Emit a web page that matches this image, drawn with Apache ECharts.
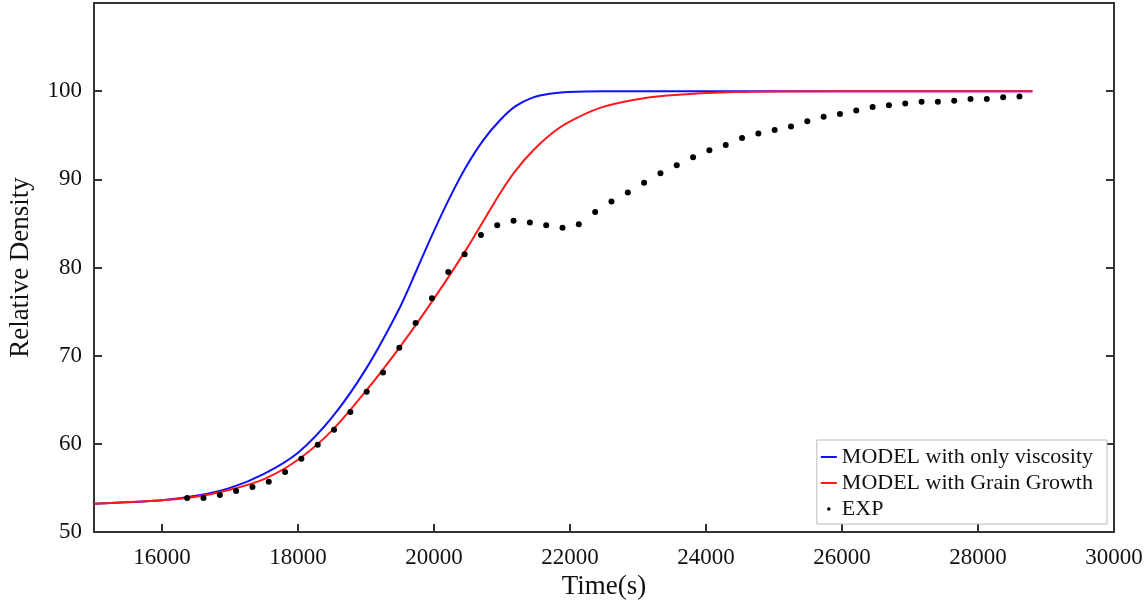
<!DOCTYPE html>
<html>
<head>
<meta charset="utf-8">
<script src="https://cdn.jsdelivr.net/npm/echarts@6/dist/echarts.min.js"></script>
<style>html,body{margin:0;padding:0;background:#fff}#chart{width:1148px;height:603px}</style>
</head>
<body>
<div id="chart"></div>
<script>
const viscT = [15000, 16000, 16500, 17000, 17500, 18000, 18500, 19000, 19500, 19750, 19985, 20230, 20470, 20720, 20970, 21200, 21460, 21700, 21960, 22500, 24000, 26000, 28800]
const viscV = [53.2, 53.6, 54.1, 55.0, 56.6, 59.0, 63.0, 68.5, 75.5, 79.8, 83.9, 87.9, 91.4, 94.4, 96.7, 98.3, 99.3, 99.7, 99.9, 100, 100, 100, 100]
const grainT = [15000, 16000, 16500, 17000, 17500, 18000, 18500, 19000, 19500, 19985, 20470, 20970, 21200, 21460, 21700, 21960, 22440, 22930, 23430, 24410, 26000, 28800]
const grainV = [53.2, 53.6, 54.0, 54.8, 56.0, 58.2, 61.5, 66.0, 71.0, 76.3, 82.0, 88.4, 91.0, 93.3, 95.0, 96.4, 98.1, 99.0, 99.5, 99.9, 100, 100]
const expT = [16370, 16610, 16850, 17090, 17330, 17570, 17810, 18050, 18290, 18530, 18770, 19010, 19250, 19490, 19730, 19970, 20210, 20450, 20690, 20930, 21170, 21410, 21650, 21890, 22130, 22370, 22610, 22850, 23090, 23330, 23570, 23810, 24050, 24290, 24530, 24770, 25010, 25250, 25490, 25730, 25970, 26210, 26450, 26690, 26930, 27170, 27410, 27650, 27890, 28130, 28370, 28610]
const expV = [53.85, 53.85, 54.2, 54.65, 55.1, 55.7, 56.8, 58.3, 59.9, 61.6, 63.6, 65.9, 68.1, 70.9, 73.7, 76.5, 79.5, 81.5, 83.7, 84.8, 85.3, 85.1, 84.8, 84.5, 84.9, 86.3, 87.5, 88.5, 89.6, 90.7, 91.6, 92.5, 93.3, 93.9, 94.7, 95.2, 95.6, 96.0, 96.6, 97.1, 97.4, 97.8, 98.2, 98.4, 98.6, 98.8, 98.8, 98.9, 99.1, 99.1, 99.3, 99.4]
const xTicks = [16000, 18000, 20000, 22000, 24000, 26000, 28000, 30000]

const zip = (a, b) => a.map((v, i) => [v, b[i]])
const font = 'Liberation Serif'
const axisLine = { show: true, lineStyle: { color: '#333', width: 2 } }
const tick = { inside: true, length: 8, lineStyle: { color: '#333', width: 2 } }

const option = {
  animation: false,
  backgroundColor: '#fff',
  textStyle: { fontFamily: font },
  grid: { left: 94, right: 34, top: 3, bottom: 71, containLabel: false, outerBoundsMode: 'none' },
  legend: {
    orient: 'vertical', right: 41, bottom: 79,
    backgroundColor: '#fff', borderColor: '#bbb', borderWidth: 1,
    padding: [6, 14, 4, 4], itemGap: 4, itemWidth: 16, itemHeight: 14,
    textStyle: { fontFamily: font, fontSize: 22, color: '#111' },
    data: [
      { name: 'MODEL with only viscosity', icon: 'path://M0,6h16v2h-16z' },
      { name: 'MODEL with Grain Growth', icon: 'path://M0,6h16v2h-16z' },
      { name: 'EXP', icon: 'path://M0,0M16,16M6,8a2,2 0 1,0 4,0a2,2 0 1,0 -4,0z' }
    ]
  },
  xAxis: [{
    type: 'value', min: 15000, max: 30000, interval: 1000,
    name: 'Time(s)', nameLocation: 'middle', nameGap: 40,
    nameTextStyle: { fontFamily: font, fontSize: 27, color: '#111' },
    axisLine, splitLine: { show: false },
    axisTick: { ...tick, customValues: xTicks },
    axisLabel: { fontSize: 23, color: '#111', margin: 14, customValues: xTicks, formatter: v => String(v) }
  }, {
    type: 'value', position: 'top', min: 15000, max: 30000,
    axisLine, axisTick: { show: false }, axisLabel: { show: false }, splitLine: { show: false }
  }],
  yAxis: [{
    type: 'value', min: 50, max: 110, interval: 10,
    name: 'Relative Density', nameLocation: 'middle', nameGap: 60,
    nameTextStyle: { fontFamily: font, fontSize: 27, color: '#111' },
    axisLine, splitLine: { show: false }, axisTick: tick,
    axisLabel: { fontSize: 23, color: '#111', margin: 12,
      formatter: v => (v >= 110 ? '' : String(v)) }
  }, {
    type: 'value', position: 'right', min: 50, max: 110, interval: 10,
    axisLine, splitLine: { show: false }, axisLabel: { show: false }, axisTick: tick
  }],
  series: [
    { name: 'MODEL with only viscosity', type: 'line', smooth: 0.3, showSymbol: false,
      color: '#1010ff', lineStyle: { width: 2 }, data: zip(viscT, viscV) },
    { name: 'MODEL with Grain Growth', type: 'line', smooth: 0.3, showSymbol: false,
      color: '#ff1a1a', lineStyle: { width: 2 }, data: zip(grainT, grainV) },
    { name: 'EXP', type: 'scatter', symbolSize: 6, color: '#000', itemStyle: { opacity: 1 },
      data: zip(expT, expV), z: 5 }
  ]
}

echarts.init(document.getElementById('chart')).setOption(option)
</script>
</body>
</html>
